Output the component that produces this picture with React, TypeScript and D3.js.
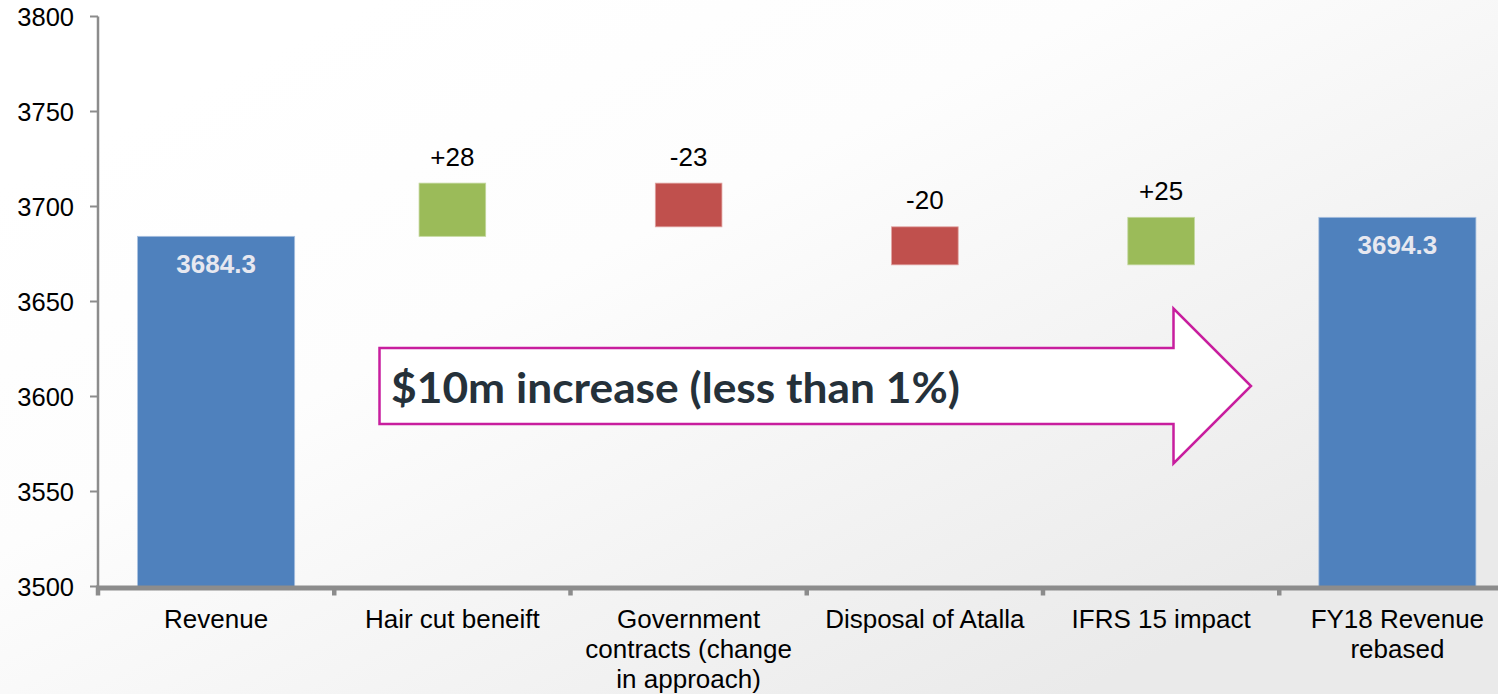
import React, { useEffect, useRef } from "react";
import * as d3 from "d3";

// ---- data ----
const categories = [
  "Revenue",
  "Hair cut beneift",
  "Government contracts (change in approach)",
  "Disposal of Atalla",
  "IFRS 15 impact",
  "FY18 Revenue rebased",
];
const startValue = 3684.3;
const endValue = 3694.3;
const changes = [28, -23, -20, 25]; // steps between start and end
const valueLabels = ["3684.3", "+28", "-23", "-20", "+25", "3694.3"];
const yTicks = [3500, 3550, 3600, 3650, 3700, 3750, 3800];
const annotation = "$10m increase (less than 1%)";

const W = 1498;
const H = 694;

export default function App() {
  const ref = useRef<SVGSVGElement>(null);

  useEffect(() => {
    const svg = d3.select(ref.current);
    svg.selectAll("*").remove();

    const defs = svg.append("defs");
    const grad = defs
      .append("linearGradient")
      .attr("id", "bg")
      .attr("x1", "0.25")
      .attr("y1", "0")
      .attr("x2", "1")
      .attr("y2", "0.7");
    grad.append("stop").attr("offset", "0").attr("stop-color", "#ffffff");
    grad.append("stop").attr("offset", "0.35").attr("stop-color", "#fdfdfd");
    grad.append("stop").attr("offset", "1").attr("stop-color", "#eaeaea");

    svg.append("rect").attr("width", W).attr("height", H).attr("fill", "url(#bg)");

    const x = d3
      .scaleBand<string>()
      .domain(categories)
      .range([98, 98 + 6 * 236.25])
      .padding(0);
    const y = d3.scaleLinear().domain([3500, 3800]).range([586.5, 16.5]);

    const bw = x.bandwidth();
    const bigW = bw * 0.665;
    const smallW = bw * 0.282;

    type Rec = { cat: string; lo: number; hi: number; kind: string; label: string };
    const recs: Rec[] = [];
    recs.push({ cat: categories[0], lo: 3500, hi: startValue, kind: "total", label: valueLabels[0] });
    let run = startValue;
    changes.forEach((c, i) => {
      const next = run + c;
      recs.push({
        cat: categories[i + 1],
        lo: Math.min(run, next),
        hi: Math.max(run, next),
        kind: c >= 0 ? "up" : "down",
        label: valueLabels[i + 1],
      });
      run = next;
    });
    recs.push({ cat: categories[5], lo: 3500, hi: endValue, kind: "total", label: valueLabels[5] });

    const color: Record<string, string> = { total: "#4F81BD", up: "#9BBB59", down: "#C0504D" };
    const edge: Record<string, string> = { total: "#a9c1e0", up: "#c3d79d", down: "#e0a3a1" };

    const font = "'Liberation Sans', Arial, sans-serif";

    const g = svg.append("g");
    g.selectAll("rect.bar")
      .data(recs)
      .join("rect")
      .attr("class", "bar")
      .attr("x", (d) => x(d.cat)! + bw / 2 - (d.kind === "total" ? bigW : smallW) / 2)
      .attr("width", (d) => (d.kind === "total" ? bigW : smallW))
      .attr("y", (d) => y(d.hi))
      .attr("height", (d) => y(d.lo) - y(d.hi))
      .attr("fill", (d) => color[d.kind])
      .attr("stroke", (d) => edge[d.kind])
      .attr("stroke-width", 0.8);

    g.selectAll("text.val")
      .data(recs)
      .join("text")
      .attr("class", "val")
      .attr("x", (d) => x(d.cat)! + bw / 2)
      .attr("y", (d) => (d.kind === "total" ? y(d.hi) + 37 : y(d.hi) - 17.5))
      .attr("text-anchor", "middle")
      .attr("font-family", font)
      .attr("font-size", 26)
      .attr("font-weight", (d) => (d.kind === "total" ? "bold" : "normal"))
      .attr("fill", (d) => (d.kind === "total" ? "#e7e8f0" : "#000"))
      .text((d) => d.label);

    // y axis
    const axisColor = "#8c8c8c";
    svg
      .append("line")
      .attr("x1", 98)
      .attr("x2", 98)
      .attr("y1", y(3800))
      .attr("y2", y(3500) + 2)
      .attr("stroke", axisColor)
      .attr("stroke-width", 2.5);
    const yt = svg.append("g");
    yt.selectAll("line")
      .data(yTicks)
      .join("line")
      .attr("x1", 90)
      .attr("x2", 98)
      .attr("y1", (d) => y(d))
      .attr("y2", (d) => y(d))
      .attr("stroke", axisColor)
      .attr("stroke-width", 2);
    yt.selectAll("text")
      .data(yTicks)
      .join("text")
      .attr("x", 74)
      .attr("y", (d) => y(d) + 9.3)
      .attr("text-anchor", "end")
      .attr("font-family", font)
      .attr("font-size", 25.5)
      .attr("fill", "#000")
      .text((d) => String(d));

    // x axis
    svg
      .append("line")
      .attr("x1", 96)
      .attr("x2", W)
      .attr("y1", y(3500) + 1.5)
      .attr("y2", y(3500) + 1.5)
      .attr("stroke", axisColor)
      .attr("stroke-width", 5);
    const bounds = categories.map((c) => x(c)!);
    svg
      .append("g")
      .selectAll("line")
      .data(bounds)
      .join("line")
      .attr("x1", (d) => d)
      .attr("x2", (d) => d)
      .attr("y1", y(3500))
      .attr("y2", y(3500) + 9)
      .attr("stroke", axisColor)
      .attr("stroke-width", 4.5);

    // category labels with wrap
    const catG = svg.append("g");
    categories.forEach((c) => {
      const t = catG
        .append("text")
        .attr("text-anchor", "middle")
        .attr("font-family", font)
        .attr("font-size", 26)
        .attr("fill", "#000");
      const cx = x(c)! + bw / 2;
      const words = c.split(" ");
      const lines: string[] = [];
      let cur: string[] = [];
      const probe = t.append("tspan");
      words.forEach((w) => {
        const test = [...cur, w].join(" ");
        probe.text(test);
        const len = (probe.node() as SVGTSpanElement).getComputedTextLength();
        if (len > 220 && cur.length) {
          lines.push(cur.join(" "));
          cur = [w];
        } else {
          cur.push(w);
        }
      });
      if (cur.length) lines.push(cur.join(" "));
      probe.remove();
      lines.forEach((ln, i) => {
        t.append("tspan")
          .attr("x", cx)
          .attr("y", y(3500) + 41 + i * 30.3)
          .text(ln);
      });
    });

    // annotation arrow
    const pts: [number, number][] = [
      [379.5, 348],
      [1173.5, 348],
      [1173.5, 308.5],
      [1251, 386],
      [1173.5, 463.5],
      [1173.5, 424],
      [379.5, 424],
    ];
    svg
      .append("polygon")
      .attr("points", pts.map((p) => p.join(",")).join(" "))
      .attr("fill", "#ffffff")
      .attr("stroke", "#C81E9E")
      .attr("stroke-width", 2.5)
      .attr("stroke-linejoin", "miter");
    svg
      .append("text")
      .attr("x", 391)
      .attr("y", 402.5)
      .attr("font-family", "Lato, 'Open Sans', sans-serif")
      .attr("font-weight", 700)
      .attr("font-size", 42)
      .attr("fill", "#25313a")
      .attr("textLength", 569)
      .attr("lengthAdjust", "spacingAndGlyphs")
      .text(annotation);
  }, []);

  return (
    <svg
      ref={ref}
      width={W}
      height={H}
      style={{ position: "absolute", left: 0, top: 0, display: "block" }}
    />
  );
}
